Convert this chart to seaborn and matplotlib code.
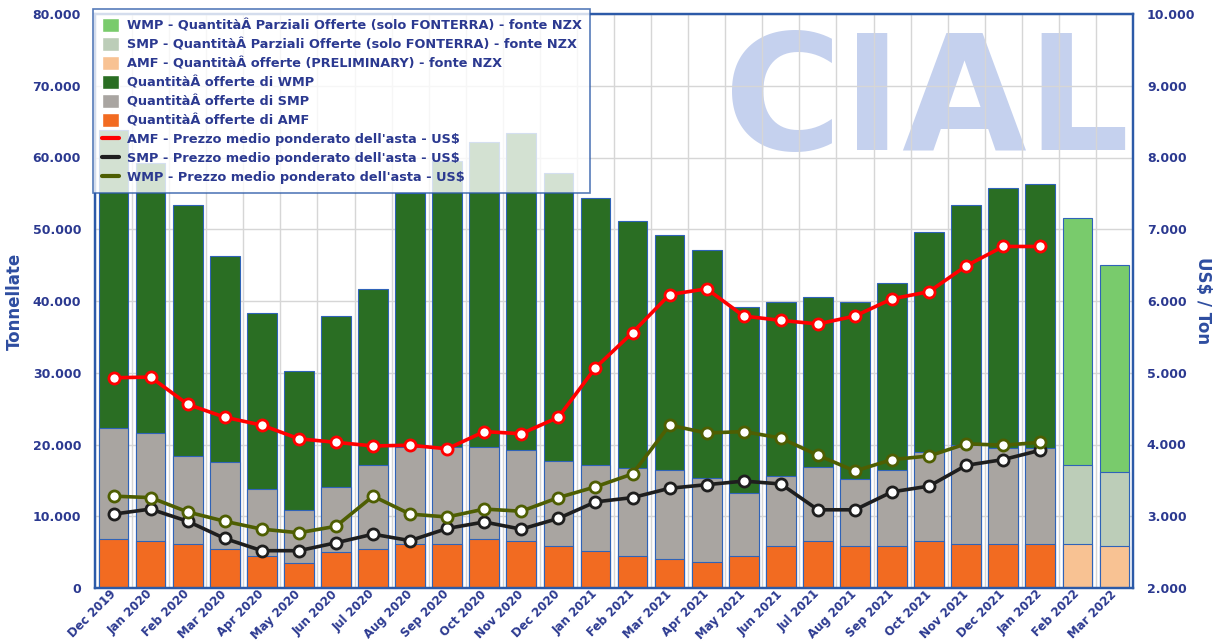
import matplotlib
matplotlib.use("Agg")
import matplotlib.pyplot as plt
import seaborn as sns
import numpy as np
import pandas as pd
from matplotlib.patches import Patch
from matplotlib.lines import Line2D
from matplotlib.ticker import FuncFormatter, FixedLocator

months = ['Dec 2019', 'Jan 2020', 'Feb 2020', 'Mar 2020', 'Apr 2020', 'May 2020',
          'Jun 2020', 'Jul 2020', 'Aug 2020', 'Sep 2020', 'Oct 2020', 'Nov 2020',
          'Dec 2020', 'Jan 2021', 'Feb 2021', 'Mar 2021', 'Apr 2021', 'May 2021',
          'Jun 2021', 'Jul 2021', 'Aug 2021', 'Sep 2021', 'Oct 2021', 'Nov 2021',
          'Dec 2021', 'Jan 2022', 'Feb 2022', 'Mar 2022']

# quantities offered (tonnes); last two months are partial / preliminary
amf_qty = [6800, 6500, 6100, 5500, 4400, 3500, 5000, 5400, 6200, 6100, 6800, 6500, 5900, 5100,
           4400, 4000, 3600, 4400, 5900, 6500, 5900, 5800, 6500, 6200, 6100, 6200, 6100, 5900]
smp_qty = [15500, 15100, 12300, 12100, 9400, 7400, 9100, 11700, 13500, 13600, 12900, 12700, 11800, 12000,
           12300, 12500, 11700, 8800, 9700, 10400, 9300, 10700, 12500, 13700, 13400, 13300, 11000, 10200]
wmp_qty = [41500, 37600, 35000, 28700, 24500, 19300, 23800, 24600, 35300, 39800, 42500, 44200, 40100, 37300,
           34500, 32700, 31800, 26000, 24200, 23600, 24600, 26000, 30600, 33500, 36300, 36800, 34500, 28900]
n_partial = 2

# weighted average auction prices (US$/t), Dec 2019 .. Jan 2022
amf_price = [4930, 4940, 4560, 4380, 4270, 4080, 4030, 3980, 3990, 3940, 4180, 4150, 4380,
             5070, 5560, 6090, 6170, 5790, 5730, 5680, 5790, 6030, 6130, 6490, 6760, 6760]
smp_price = [3030, 3100, 2930, 2690, 2520, 2520, 2630, 2750, 2660, 2830, 2920, 2820, 2970,
             3200, 3260, 3390, 3440, 3490, 3450, 3090, 3090, 3340, 3420, 3710, 3790, 3920]
wmp_price = [3280, 3260, 3060, 2930, 2820, 2770, 2860, 3280, 3030, 2990, 3100, 3070, 3260,
             3410, 3590, 4270, 4160, 4180, 4090, 3850, 3630, 3790, 3840, 4010, 3990, 4030]

navy = '#2b3990'
blue = '#2c5aa8'
c_wmp, c_smp, c_amf = '#2a6e23', '#a9a5a1', '#f26b21'
c_wmp_p, c_smp_p, c_amf_p = '#79cb6c', '#bccdb8', '#f8c293'

df = pd.DataFrame({'month': months, 'amf': amf_qty, 'smp': smp_qty, 'wmp': wmp_qty})
df['smp_top'] = df['amf'] + df['smp']
df['total'] = df['smp_top'] + df['wmp']

n = len(months)
def pal(reg, part):
    return [reg] * (n - n_partial) + [part] * n_partial

sns.set_style('white')
plt.rcParams['font.family'] = ['DejaVu Sans']

fig = plt.figure(figsize=(12.23, 6.43), dpi=100)
ax = fig.add_axes([95 / 1223, 1 - 588 / 643, (1133 - 95) / 1223, 574 / 643])

bar_kw = dict(hue='month', legend=False, width=0.8, saturation=1,
              edgecolor='#2f63b8', linewidth=0.8, ax=ax)
sns.barplot(data=df, x='month', y='total', palette=pal(c_wmp, c_wmp_p), **bar_kw)
sns.barplot(data=df, x='month', y='smp_top', palette=pal(c_smp, c_smp_p), **bar_kw)
sns.barplot(data=df, x='month', y='amf', palette=pal(c_amf, c_amf_p), **bar_kw)

ax.set_xlim(-0.5, n - 0.5)
ax.set_ylim(0, 80000)
ax.set_yticks(np.arange(0, 80001, 10000))
ax.yaxis.set_major_formatter(FuncFormatter(lambda v, p: f'{int(v):,}'.replace(',', '.')))
ax.xaxis.set_minor_locator(FixedLocator(np.arange(-0.5, n, 1.0)))
ax.set_axisbelow(True)
ax.grid(True, which='major', axis='y', color='#d6d6d6', lw=1)
ax.grid(True, which='minor', axis='x', color='#d6d6d6', lw=1)
ax.tick_params(axis='x', which='major', length=0, pad=3)
ax.tick_params(axis='x', which='minor', length=4, color=blue, width=1)
ax.tick_params(axis='y', length=0, pad=10)
plt.setp(ax.get_xticklabels(), rotation=45, ha='right', va='center', rotation_mode='anchor',
         fontsize=8.5, fontweight='bold', color=navy)
plt.setp(ax.get_yticklabels(), fontsize=9, fontweight='bold', color=navy)
ax.set_xlabel('')
ax.set_ylabel('Tonnellate', fontsize=12, fontweight='bold', color='#2e4da0', labelpad=6)

ax2 = ax.twinx()
pos = np.arange(len(amf_price))
for vals, col in [(amf_price, '#ff0000'), (smp_price, '#1e1e1e'), (wmp_price, '#4e5e02')]:
    sns.lineplot(x=pos, y=vals, ax=ax2, color=col, lw=2.6, marker='o', markersize=8,
                 markerfacecolor='white', markeredgecolor=col, markeredgewidth=2)
ax2.set_ylim(2000, 10000)
ax2.set_yticks(np.arange(2000, 10001, 1000))
ax2.yaxis.set_major_formatter(FuncFormatter(lambda v, p: f'{int(v):,}'.replace(',', '.')))
ax2.tick_params(axis='y', length=0, pad=10)
plt.setp(ax2.get_yticklabels(), fontsize=9, fontweight='bold', color=navy)
ax2.set_ylabel('US$ / Ton', fontsize=12, fontweight='bold', color='#2e4da0',
               rotation=270, labelpad=12)

for a in (ax, ax2):
    for s in a.spines.values():
        s.set_color(blue)
        s.set_linewidth(1.6)

# logo
ax.text(0.758, 1 - 150 / 643, 'CIAL', transform=fig.transFigure, ha='center', va='baseline',
        fontsize=116, fontweight='bold', color='#c5d1ee', zorder=0.4)

handles = [Patch(facecolor=c_wmp_p), Patch(facecolor=c_smp_p), Patch(facecolor=c_amf_p),
           Patch(facecolor=c_wmp), Patch(facecolor=c_smp), Patch(facecolor=c_amf),
           Line2D([], [], color='#ff0000', lw=3), Line2D([], [], color='#1e1e1e', lw=3),
           Line2D([], [], color='#4e5e02', lw=3)]
labels = ['WMP - QuantitàÂ Parziali Offerte (solo FONTERRA) - fonte NZX',
          'SMP - QuantitàÂ Parziali Offerte (solo FONTERRA) - fonte NZX',
          'AMF - QuantitàÂ offerte (PRELIMINARY) - fonte NZX',
          'QuantitàÂ offerte di WMP',
          'QuantitàÂ offerte di SMP',
          'QuantitàÂ offerte di AMF',
          "AMF - Prezzo medio ponderato dell'asta - US$",
          "SMP - Prezzo medio ponderato dell'asta - US$",
          "WMP - Prezzo medio ponderato dell'asta - US$"]
leg = ax2.legend(handles, labels, loc='upper left', bbox_to_anchor=(-0.002, 1.009),
                 borderaxespad=0, frameon=True, fancybox=False, framealpha=0.8,
                 edgecolor=blue, handlelength=1.3, handleheight=1.3, labelspacing=0.36,
                 handletextpad=0.6, borderpad=0.7,
                 prop={'weight': 'bold', 'size': 9.3})
leg.get_frame().set_linewidth(1.2)
for t in leg.get_texts():
    t.set_color(navy)

fig.savefig('out.png', dpi=100)
